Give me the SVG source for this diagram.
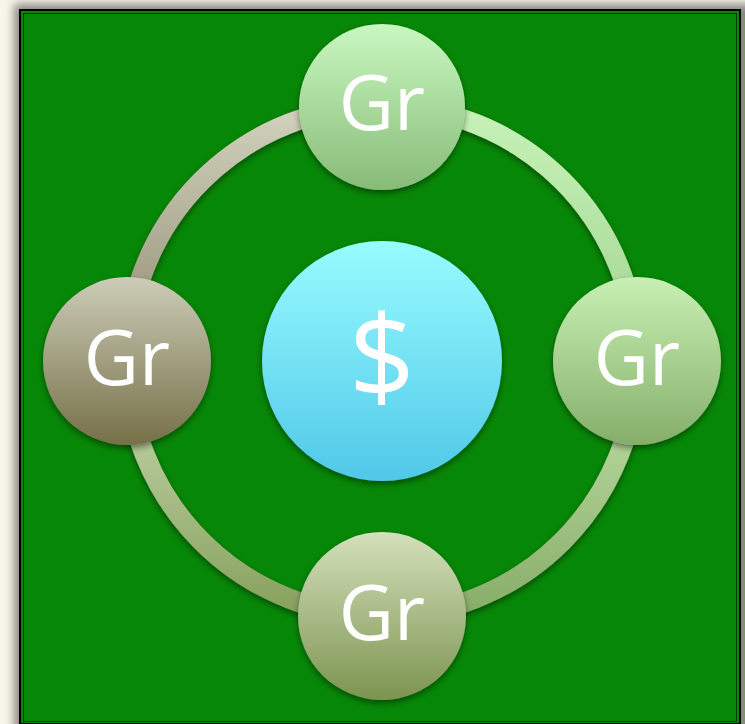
<svg xmlns="http://www.w3.org/2000/svg" width="745" height="724" viewBox="0 0 745 724">
<style>
.lbl{font-family:"Open Sans","Noto Sans","DejaVu Sans",sans-serif;fill:#ffffff;text-anchor:middle}
.gr{font-size:76px}
.dollar{font-size:116px}
.arc{fill:none;stroke-width:20}
</style>
<defs>
<filter id="frameShadow" x="-10%" y="-10%" width="120%" height="120%">
<feGaussianBlur stdDeviation="5"/>
</filter>
<filter id="sh" x="-20%" y="-20%" width="140%" height="140%">
<feDropShadow dx="0" dy="3" stdDeviation="3" flood-color="#000" flood-opacity="0.45"/>
</filter>
<linearGradient id="gArcTL" gradientUnits="userSpaceOnUse" x1="0" y1="106" x2="0" y2="361"><stop offset="0" stop-color="#d2d2be"/><stop offset="1" stop-color="#8e8a6e"/></linearGradient>
<linearGradient id="gArcTR" gradientUnits="userSpaceOnUse" x1="0" y1="106" x2="0" y2="361"><stop offset="0" stop-color="#c8f2b8"/><stop offset="1" stop-color="#a0d490"/></linearGradient>
<linearGradient id="gArcBR" gradientUnits="userSpaceOnUse" x1="0" y1="361" x2="0" y2="616"><stop offset="0" stop-color="#c4e4ac"/><stop offset="1" stop-color="#88ac68"/></linearGradient>
<linearGradient id="gArcBL" gradientUnits="userSpaceOnUse" x1="0" y1="361" x2="0" y2="616"><stop offset="0" stop-color="#ccdcb4"/><stop offset="1" stop-color="#86a05c"/></linearGradient>
<linearGradient id="gTop" x1="0" y1="0" x2="0" y2="1"><stop offset="0" stop-color="#c8f8c0"/><stop offset="1" stop-color="#88bb78"/></linearGradient>
<linearGradient id="gRight" x1="0" y1="0" x2="0" y2="1"><stop offset="0" stop-color="#c8f0b4"/><stop offset="1" stop-color="#86ae6a"/></linearGradient>
<linearGradient id="gBottom" x1="0" y1="0" x2="0" y2="1"><stop offset="0" stop-color="#d4e0bc"/><stop offset="1" stop-color="#7c9450"/></linearGradient>
<linearGradient id="gLeft" x1="0" y1="0" x2="0" y2="1"><stop offset="0" stop-color="#ccccb8"/><stop offset="1" stop-color="#767048"/></linearGradient>
<linearGradient id="gCenter" x1="0" y1="0" x2="0" y2="1"><stop offset="0" stop-color="#98fcff"/><stop offset="1" stop-color="#50c8e8"/></linearGradient>
</defs>
<rect x="0" y="0" width="745" height="724" fill="#f8f6ea"/>
<rect x="14" y="4" width="745" height="740" fill="#8a8880" filter="url(#frameShadow)"/>
<rect x="20" y="10" width="720" height="714" fill="#078707"/>
<rect x="20" y="10" width="720" height="714" fill="none" stroke="#000" stroke-width="2"/>
<rect x="23.5" y="13.5" width="713" height="708" fill="none" stroke="#043804" stroke-width="1"/>
<g id="connectors" filter="url(#sh)">
<path class="arc" stroke="url(#gArcTL)" d="M127 361 A255 255 0 0 1 382 106"/>
<path class="arc" stroke="url(#gArcTR)" d="M382 106 A255 255 0 0 1 637 361"/>
<path class="arc" stroke="url(#gArcBR)" d="M637 361 A255 255 0 0 1 382 616"/>
<path class="arc" stroke="url(#gArcBL)" d="M382 616 A255 255 0 0 1 127 361"/>
</g>
<g id="node-center">
<circle cx="382" cy="361" r="120" fill="url(#gCenter)" filter="url(#sh)"/>
<text class="lbl dollar" x="382" y="398">$</text>
</g>
<g id="node-top">
<circle cx="382" cy="107" r="83" fill="url(#gTop)" filter="url(#sh)"/>
<text class="lbl gr" x="382" y="130">Gr</text>
</g>
<g id="node-right">
<circle cx="637" cy="361" r="84" fill="url(#gRight)" filter="url(#sh)"/>
<text class="lbl gr" x="637" y="385">Gr</text>
</g>
<g id="node-bottom">
<circle cx="382" cy="616" r="84" fill="url(#gBottom)" filter="url(#sh)"/>
<text class="lbl gr" x="382" y="640">Gr</text>
</g>
<g id="node-left">
<circle cx="127" cy="361" r="84" fill="url(#gLeft)" filter="url(#sh)"/>
<text class="lbl gr" x="127" y="385">Gr</text>
</g>
</svg>
